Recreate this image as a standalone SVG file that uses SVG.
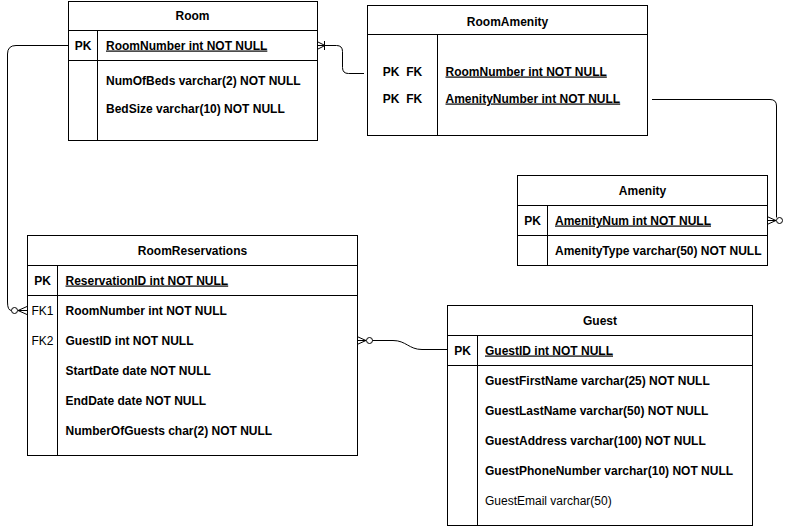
<svg xmlns="http://www.w3.org/2000/svg" width="786" height="526" viewBox="0 0 786 526">
<style>
.box{fill:#fff;stroke:#000;stroke-width:1}
.ln{fill:none;stroke:#000;stroke-width:1}
text{font-family:"Liberation Sans",Arial,sans-serif;font-size:12px;font-weight:bold;fill:#000}
.c{text-anchor:middle}
.u{text-decoration:underline}
.r{font-weight:normal}
.mk{fill:none;stroke:#000;stroke-width:1}
.ci{fill:#fff;stroke:#000;stroke-width:1}
</style>
<rect width="786" height="526" fill="#fff"/>
<g id="connectors">
  <!-- Room.PK -> RoomReservations.FK1 -->
  <path class="ln" d="M68,45.5 H16 Q7.5,45.5 7.5,54 V302 Q7.5,310.5 11.5,310.5"/>
  <path class="mk" d="M18,310.5 L27,306.5 M18,310.5 L27,310.5 M18,310.5 L27,314.5"/>
  <circle class="ci" cx="14.5" cy="310.5" r="3"/>
  <!-- Room.PK -> RoomAmenity.RoomNumber -->
  <path class="mk" d="M317,41.5 L325,45.5 L317,49.5 M317,45.5 H325 M324.5,41 V50"/>
  <path class="ln" d="M325,45.5 H336.5 Q342.5,45.5 342.5,51.5 V67.5 Q342.5,73.5 348.5,73.5 H364"/>
  <!-- RoomAmenity.AmenityNumber -> Amenity.PK -->
  <path class="ln" d="M652,99.5 H770 Q776.5,99.5 776.5,106 V217.5"/>
  <path class="mk" d="M776,220.5 L767,216.5 M776,220.5 L767,220.5 M776,220.5 L767,224.5"/>
  <circle class="ci" cx="779.5" cy="220.5" r="3"/>
  <!-- RoomReservations.FK2 -> Guest.PK -->
  <path class="mk" d="M366,340.5 L357,336.5 M366,340.5 L357,340.5 M366,340.5 L357,344.5"/>
  <circle class="ci" cx="369.5" cy="340.5" r="3"/>
  <path class="ln" d="M372.5,340.5 H393 C406,340.5 409,349.5 422,349.5 H447"/>
</g>
<g id="Room">
  <rect class="box" x="68.5" y="1.5" width="249" height="139"/>
  <path class="ln" d="M68.5,30.5 H317.5 M68.5,60.5 H317.5 M97.5,30.5 V140.5"/>
  <text class="c" x="192.5" y="20">Room</text>
  <text class="c" x="83" y="49.5">PK</text>
  <text class="u" x="106" y="49.5">RoomNumber int NOT NULL</text>
  <text x="106" y="85">NumOfBeds varchar(2) NOT NULL</text>
  <text x="106" y="113">BedSize varchar(10) NOT NULL</text>
</g>
<g id="RoomAmenity">
  <rect class="box" x="367.5" y="5.5" width="280" height="130"/>
  <path class="ln" d="M367.5,34.5 H647.5 M437.5,34.5 V135.5"/>
  <text class="c" x="507.5" y="25.5">RoomAmenity</text>
  <text class="c" x="402.5" y="75.5" xml:space="preserve">PK  FK</text>
  <text class="c" x="402.5" y="102.5" xml:space="preserve">PK  FK</text>
  <text class="u" x="445.5" y="75.5">RoomNumber int NOT NULL</text>
  <text class="u" x="445.5" y="102.5">AmenityNumber int NOT NULL</text>
</g>
<g id="Amenity">
  <rect class="box" x="517.5" y="175.5" width="250" height="90"/>
  <path class="ln" d="M517.5,205.5 H767.5 M517.5,235.5 H767.5 M547.5,205.5 V265.5"/>
  <text class="c" x="642.5" y="195">Amenity</text>
  <text class="c" x="532.5" y="224.5">PK</text>
  <text class="u" x="555" y="224.5">AmenityNum int NOT NULL</text>
  <text x="555" y="254.5">AmenityType varchar(50) NOT NULL</text>
</g>
<g id="RoomReservations">
  <rect class="box" x="27.5" y="235.5" width="330" height="220"/>
  <path class="ln" d="M27.5,265.5 H357.5 M27.5,295.5 H357.5 M57.5,265.5 V455.5"/>
  <text class="c" x="192.5" y="255">RoomReservations</text>
  <text class="c" x="42.5" y="284.5">PK</text>
  <text class="c r" x="42.5" y="314.5">FK1</text>
  <text class="c r" x="42.5" y="344.5">FK2</text>
  <text class="u" x="65.5" y="284.5">ReservationID int NOT NULL</text>
  <text x="65.5" y="314.5">RoomNumber int NOT NULL</text>
  <text x="65.5" y="344.5">GuestID int NOT NULL</text>
  <text x="65.5" y="374.5">StartDate date NOT NULL</text>
  <text x="65.5" y="404.5">EndDate date NOT NULL</text>
  <text x="65.5" y="434.5">NumberOfGuests char(2) NOT NULL</text>
</g>
<g id="Guest">
  <rect class="box" x="447.5" y="305.5" width="305" height="220"/>
  <path class="ln" d="M447.5,335.5 H752.5 M447.5,365.5 H752.5 M477.5,335.5 V525.5"/>
  <text class="c" x="600" y="325">Guest</text>
  <text class="c" x="462.5" y="354.5">PK</text>
  <text class="u" x="485" y="354.5">GuestID int NOT NULL</text>
  <text x="485" y="384.5">GuestFirstName varchar(25) NOT NULL</text>
  <text x="485" y="414.5">GuestLastName varchar(50) NOT NULL</text>
  <text x="485" y="444.5">GuestAddress varchar(100) NOT NULL</text>
  <text x="485" y="474.5">GuestPhoneNumber varchar(10) NOT NULL</text>
  <text class="r" x="485" y="504.5" fill="#333">GuestEmail varchar(50)</text>
</g>
</svg>
